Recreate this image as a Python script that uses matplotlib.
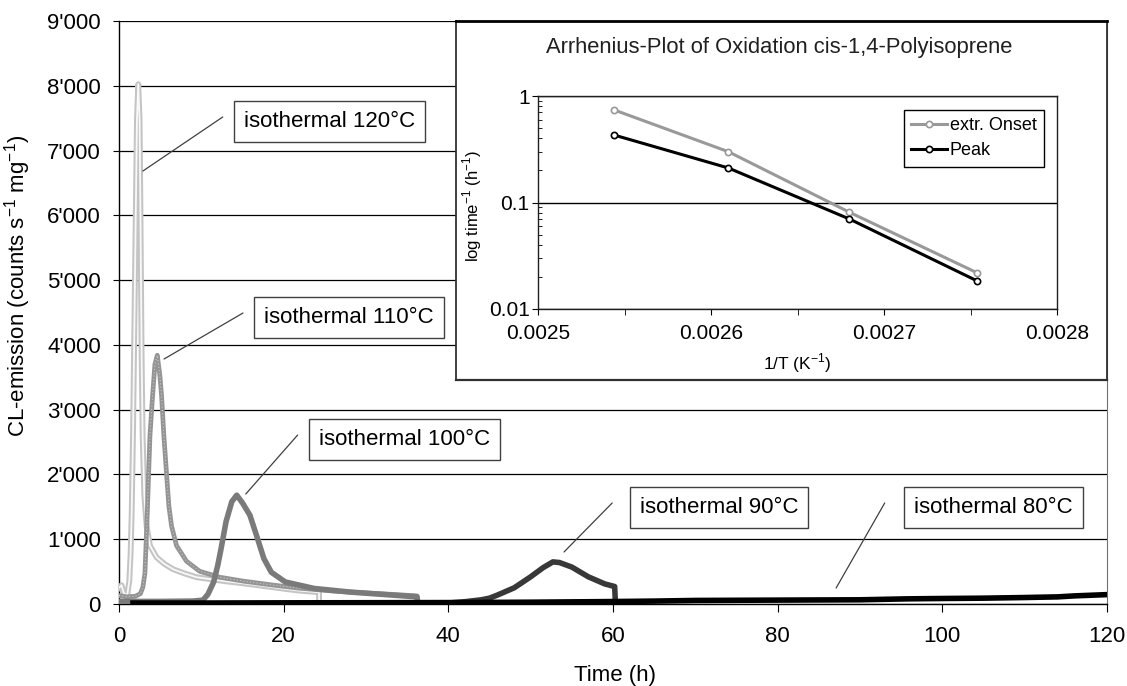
import matplotlib
matplotlib.use("Agg")
import matplotlib.pyplot as plt
from matplotlib.ticker import FixedLocator, NullFormatter

plt.rcParams['font.family'] = ['Liberation Sans', 'DejaVu Sans']

# ---------------- data ----------------
t120 = [0, 0.3, 0.6, 1.0, 1.25, 1.41, 1.54, 1.70, 1.82, 1.94, 2.06, 2.18, 2.34, 2.50, 2.59,
        2.67, 2.75, 2.87, 3.07, 3.35, 3.76, 4.57, 5.5, 6.6, 8.0, 9.4, 11.0, 13.0, 15.0,
        16.7, 18.5, 20.3, 22.0, 24.0, 24.3, 24.3]
v120 = [250, 290, 160, 140, 353, 780, 1390, 2600, 3820, 5040, 6260, 7480, 8025, 7480, 6260,
        5040, 3820, 2600, 1690, 1205, 900, 720, 620, 535, 470, 414, 385, 350, 320,
        292, 262, 231, 205, 185, 180, 0]

t110 = [0, 1.0, 2.0, 2.6, 2.9, 3.15, 3.43, 3.76, 4.08, 4.36, 4.65, 4.97, 5.17, 5.45, 5.78,
        6.06, 6.38, 6.99, 8.2, 9.8, 12.2, 15.1, 18.7, 21.9, 26.0, 30.0, 33.0, 35.9, 36.2, 36.2]
v110 = [130, 110, 120, 160, 260, 475, 1390, 2600, 3215, 3700, 3840, 3520, 3215, 2600, 2000,
        1510, 1205, 900, 660, 505, 414, 353, 292, 244, 200, 170, 150, 128, 125, 0]

t100 = [0, 5, 9, 10.2, 10.8, 11.5, 12.0, 12.4, 13.0, 13.7, 14.3, 15.0, 15.9, 16.7, 17.6,
        18.5, 20.2, 23.7, 28.0, 32.4, 36.2, 36.3]
v100 = [40, 40, 45, 60, 150, 340, 600, 855, 1270, 1580, 1680, 1560, 1370, 1060, 700,
        490, 340, 240, 185, 145, 110, 0]

t90 = [37, 40, 42, 44, 45, 46, 48, 50, 51.5, 52.7, 53.5, 55, 57, 59, 60.2, 60.3]
v90 = [10, 15, 35, 65, 90, 140, 250, 420, 560, 650, 640, 570, 420, 310, 270, 0]

t80 = [1.7, 10, 20, 30, 40, 50, 60, 65, 70, 80, 90, 96, 100, 105, 110, 114, 116, 118, 120]
v80 = [15, 15, 18, 20, 22, 28, 38, 45, 55, 60, 65, 80, 85, 90, 100, 110, 125, 135, 145]

y_ticks = [0, 1000, 2000, 3000, 4000, 5000, 6000, 7000, 8000, 9000]
y_tick_labels = ["0", "1'000", "2'000", "3'000", "4'000", "5'000", "6'000", "7'000", "8'000", "9'000"]
x_ticks = [0, 20, 40, 60, 80, 100, 120]

curve_labels = ["isothermal 120°C", "isothermal 110°C", "isothermal 100°C",
                "isothermal 90°C", "isothermal 80°C"]

# inset (Arrhenius plot)
inv_T = [0.002544, 0.002610, 0.002680, 0.002754]
onset = [0.74, 0.30, 0.081, 0.0218]
peak = [0.43, 0.211, 0.070, 0.0183]
inset_x_ticks = [0.0025, 0.0026, 0.0027, 0.0028]
inset_x_labels = ["0.0025", "0.0026", "0.0027", "0.0028"]
inset_y_ticks = [0.01, 0.1, 1]
inset_y_labels = ["0.01", "0.1", "1"]

# ---------------- figure ----------------
W, H = 1127, 686
fig = plt.figure(figsize=(W / 100, H / 100), dpi=100)

def fr(x0, y0, x1, y1):
    return [x0 / W, 1 - y1 / H, (x1 - x0) / W, (y1 - y0) / H]

ax = fig.add_axes(fr(119, 21, 1107, 604))
ax.set_xlim(0, 120)
ax.set_ylim(0, 9000)
ax.set_yticks(y_ticks)
ax.set_yticklabels(y_tick_labels)
ax.set_xticks(x_ticks)
ax.tick_params(axis='both', labelsize=16, direction='out', color='black')
ax.tick_params(axis='y', length=4, pad=9)
ax.tick_params(axis='x', length=6, pad=10)
ax.yaxis.grid(True, color='black', lw=0.9)
ax.set_axisbelow(True)
ax.spines['top'].set_visible(False)
ax.spines['right'].set_color('#707070')
for s in ('left', 'bottom'):
    ax.spines[s].set_color('black')
    ax.spines[s].set_linewidth(1.0)

# curves
ax.plot(t120, v120, color='#c4c4c4', lw=4.2, solid_joinstyle='round', zorder=3)
ax.plot(t120, v120, color='white', lw=1.3, alpha=0.9, zorder=3.1)
ax.plot(t110, v110, color='#949494', lw=3.4, solid_joinstyle='round', zorder=3.2)
ax.plot(t110, v110, color='#c8c8c8', lw=0.8, ls=(0, (1, 2)), zorder=3.3)
ax.plot(t100, v100, color='#7a7a7a', lw=4.0, solid_joinstyle='round', zorder=3.4)
ax.plot(t90, v90, color='#383838', lw=4.0, solid_joinstyle='round', zorder=3.5)
ax.plot(t80, v80, color='black', lw=4.0, solid_joinstyle='round', zorder=3.6)

ax.set_xlabel("Time (h)", fontsize=16)
ax.xaxis.set_label_coords(0.502, -0.104)
ax.set_ylabel("CL-emission (counts s$^{\\mathregular{-1}}$ mg$^{\\mathregular{-1}}$)", fontsize=16)
ax.yaxis.set_label_coords(-0.087, 0.545)

# annotation boxes and leader lines (layout positions in data units)
box_pos = [(25.6, 7456), (27.9, 4430), (34.7, 2547), (72.9, 1497), (106.2, 1497)]
leaders = [((2.9, 6684), (12.6, 7518)), ((5.47, 3782), (15.06, 4492)),
           ((15.4, 1698), (21.7, 2609)), ((54.05, 803), (59.9, 1559)),
           ((87.1, 247), (93.0, 1559))]
for lab, (bx, by), (p0, p1) in zip(curve_labels, box_pos, leaders):
    ax.text(bx, by, lab, ha='center', va='center', fontsize=16, zorder=6,
            bbox=dict(boxstyle='square,pad=0.45', fc='white', ec='#404040', lw=1.0))
    ax.annotate('', xy=p0, xytext=p1,
                arrowprops=dict(arrowstyle='-', color='#404040', lw=0.9,
                                shrinkA=0, shrinkB=0), zorder=6)

# ---------------- inset frame ----------------
axf = fig.add_axes(fr(456, 21, 1107, 380))
axf.set_zorder(5)
axf.set_xticks([])
axf.set_yticks([])
axf.set_facecolor('white')
for s in axf.spines.values():
    s.set_color('#303030')
    s.set_linewidth(1.3)
axf.spines['top'].set_linewidth(2.0)
axf.spines['top'].set_color('black')
axf.spines['bottom'].set_linewidth(1.6)
fig.text(779 / W, 1 - 47 / H, "Arrhenius-Plot of Oxidation cis-1,4-Polyisoprene",
         ha='center', va='center', fontsize=15.8, zorder=10, color='#202020')

# ---------------- inset axes ----------------
axi = fig.add_axes(fr(538, 96, 1057, 309))
axi.set_zorder(6)
axi.set_yscale('log')
axi.set_xlim(0.0025, 0.0028)
axi.set_ylim(0.01, 1)
axi.plot(inv_T, onset, color='#999999', lw=2.2, marker='o', ms=4.5,
         mfc='white', mec='#999999', mew=1.2, label='extr. Onset', zorder=3)
axi.plot(inv_T, peak, color='black', lw=2.2, marker='o', ms=4.5,
         mfc='white', mec='black', mew=1.2, label='Peak', zorder=4)
axi.xaxis.set_major_locator(FixedLocator(inset_x_ticks))
axi.set_xticklabels(inset_x_labels)
axi.xaxis.set_minor_locator(FixedLocator([0.00255, 0.00265, 0.00275]))
axi.yaxis.set_major_locator(FixedLocator(inset_y_ticks))
axi.set_yticklabels(inset_y_labels)
axi.yaxis.set_minor_locator(FixedLocator([k * 10.0 ** e for e in (-2, -1) for k in range(2, 10)]))
axi.yaxis.set_minor_formatter(NullFormatter())
axi.tick_params(axis='both', which='major', labelsize=15, direction='out', length=4)
axi.tick_params(axis='x', which='major', pad=7)
axi.tick_params(axis='y', which='major', pad=2)
axi.tick_params(axis='x', which='minor', direction='out', length=4)
axi.tick_params(axis='y', which='minor', direction='in', length=3)
axi.yaxis.grid(True, which='major', color='black', lw=1.0)
axi.set_axisbelow(True)
for s in axi.spines.values():
    s.set_color('#202020')
    s.set_linewidth(1.0)
axi.set_xlabel("1/T (K$^{\\mathregular{-1}}$)", fontsize=12.5)
axi.xaxis.set_label_coords(0.5, -0.20)
axi.set_ylabel("log time$^{\\mathregular{-1}}$ (h$^{\\mathregular{-1}}$)", fontsize=12)
axi.yaxis.set_label_coords(-0.105, 0.484)
leg = axi.legend(loc='upper right', bbox_to_anchor=(0.975, 0.934), fontsize=13,
                 frameon=True, fancybox=False, edgecolor='black', framealpha=1,
                 handlelength=2.0, handletextpad=0.15, borderpad=0.4, labelspacing=0.45,
                 borderaxespad=0)
leg.get_frame().set_linewidth(1.0)

fig.savefig("out.png", dpi=100)
